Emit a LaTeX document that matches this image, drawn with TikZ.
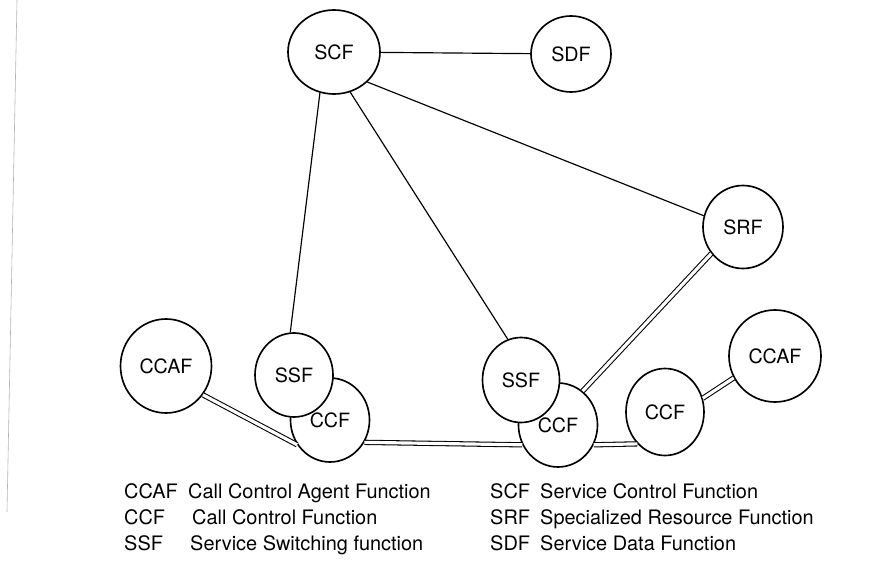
\documentclass[tikz,border=0pt]{standalone}
\usepackage{fontspec}
\setmainfont{TeX Gyre Heros}
\usetikzlibrary{shapes.geometric}
\begin{document}
\begin{tikzpicture}[x=0.3mm,y=-0.3mm,
  fn/.style={ellipse,draw,line width=1.4pt,fill=white,inner sep=0pt,font=\fontsize{16.8}{20}\selectfont},
  link/.style={line width=1pt},
  bus/.style={double,line width=0.9pt,double distance=0.95mm},
  key/.style={anchor=base west,inner sep=0pt,font=\fontsize{17}{20}\selectfont}]
\useasboundingbox (0,0) rectangle (893,571);
\draw [gray!60,line width=0.5pt] (17,0) -- (7,512);
\node [fn,minimum width=27.6mm,minimum height=25.2mm] (scf) at (334,52) {SCF};
\node [fn,minimum width=24mm,minimum height=22.8mm] (sdf) at (571,54) {SDF};
\node [fn,minimum width=24mm,minimum height=24.9mm] (srf) at (743,227) {SRF};
\node [fn,minimum width=27.3mm,minimum height=28.2mm] (ccafL) at (166,366) {CCAF};
\node [fn,minimum width=27.6mm,minimum height=27.6mm] (ccafR) at (775,356) {CCAF};
\node [fn,minimum width=23.7mm,minimum height=25.2mm] (ccfL) at (330,420) {\raisebox{-1.5mm}{CCF}};
\node [fn,minimum width=23.7mm,minimum height=25.2mm] (ccfM) at (558,425) {\raisebox{-1.5mm}{CCF}};
\node [fn,minimum width=23.4mm,minimum height=26.1mm] (ccfR) at (665,412) {CCF};
\node [fn,minimum width=23.4mm,minimum height=25.2mm] (ssfL) at (294,375) {SSF};
\node [fn,minimum width=23.1mm,minimum height=25.5mm] (ssfM) at (521,380) {SSF};
\draw [link] (scf) -- (sdf);
\draw [link] (scf.-109) -- (ssfL.95);
\draw [link] (scf.-68) -- (ssfM.108);
\draw [link] (scf.-42) -- (srf.164);
\draw [bus] (ccafL.-38) -- (ccfL.217);
\draw [bus] (ccfL.-33) -- (ccfM.209);
\draw [bus] (ccfM.-29) -- (ccfR.229);
\draw [bus] (ccfR.20) -- (ccafR.208);
\draw [bus] (ccfM.54) -- (srf.220);
\node [key] (kccaf) at (124,498) {CCAF};
\node [key] (dccaf) at (188,498) {Call Control Agent Function};
\node [key] (kccf) at (124,524) {CCF};
\node [key] (dccf) at (192,524) {Call Control Function};
\node [key] (kssf) at (124,550) {SSF};
\node [key] (dssf) at (190,550) {Service Switching function};
\node [key] (kscf) at (490,498) {SCF};
\node [key] (dscf) at (540,498) {Service Control Function};
\node [key] (ksrf) at (490,524) {SRF};
\node [key] (dsrf) at (540,524) {Specialized Resource Function};
\node [key] (ksdf) at (490,550) {SDF};
\node [key] (dsdf) at (540,550) {Service Data Function};
\end{tikzpicture}
\end{document}
